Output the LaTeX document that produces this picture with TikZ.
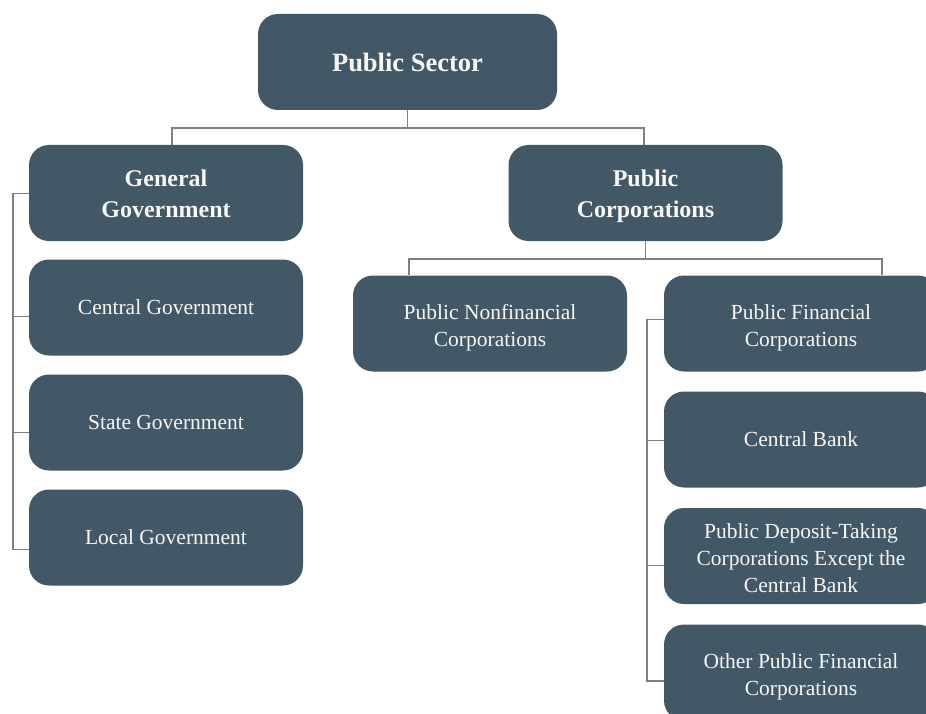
\documentclass[tikz,border=0pt]{standalone}
\usepackage{fontspec}
\setmainfont{Liberation Serif}
\definecolor{boxfill}{HTML}{425866}
\definecolor{linegray}{HTML}{7F7F7F}
\definecolor{txt}{HTML}{F7F7F7}
\begin{document}
\begin{tikzpicture}[x=1pt,y=-1pt,
  box/.style={draw=none, fill=boxfill, rounded corners=20pt, minimum width=274pt, minimum height=96pt,
    inner sep=0pt, align=center, text=txt, font=\fontsize{21.5}{27}\selectfont},
  twolines/.style={text height=46pt, text depth=0pt},
  threelines/.style={text height=73pt, text depth=0pt},
  boldbox/.style={box, font=\fontsize{24}{31}\selectfont\bfseries},
  boldtwo/.style={text height=49pt, text depth=0pt},
  conn/.style={draw=linegray, line width=1.3pt}]
\useasboundingbox (0,0) rectangle (926,714);
% nodes
\node[boldbox, minimum width=299pt, font=\fontsize{26.5}{31}\selectfont\bfseries] (ps) at (407.5,62) {Public Sector};
\node[boldbox, boldtwo] (gg) at (166,193) {General\\Government};
\node[boldbox, boldtwo] (pc) at (645.5,193) {Public\\Corporations};
\node[box] (cg) at (166,307.5) {Central Government};
\node[box] (sg) at (166,422.5) {State Government};
\node[box] (lg) at (166,537.5) {Local Government};
\node[box, twolines] (pnc) at (490,323.5) {Public Nonfinancial\\Corporations};
\node[box, twolines] (pfc) at (801,323.5) {Public Financial\\Corporations};
\node[box] (cb) at (801,439.5) {Central Bank};
\node[box, threelines] (pdt) at (801,556) {Public Deposit-Taking\\Corporations Except the\\Central Bank};
\node[box, twolines] (opf) at (801,672.5) {Other Public Financial\\Corporations};
% coordinates
\coordinate (psbar) at (407.5,128);
\coordinate (pcbar) at (645.5,259);
\coordinate (lbx) at (13,0);
\coordinate (rbx) at (647,0);
% connectors top
\draw[conn] (ps.south) -- (psbar);
\draw[conn] (gg.north -| 172,0) |- (psbar) -| (pc.north -| 644,0);
\draw[conn] (pc.south) -- (pcbar);
\draw[conn] (pnc.north -| 409,0) |- (pcbar) -| (pfc.north -| 882,0);
% left bracket
\draw[conn] (gg.west |- 0,193.3) -| (lbx |- 0,549.3) -- (lg.west |- 0,549.3);
\draw[conn] (cg.west |- 0,316.7) -- (lbx |- 0,316.7);
\draw[conn] (sg.west |- 0,432.3) -- (lbx |- 0,432.3);
% right bracket
\draw[conn] (pfc.west |- 0,319.3) -| (rbx |- 0,681) -- (opf.west |- 0,681);
\draw[conn] (cb.west |- 0,440.7) -- (rbx |- 0,440.7);
\draw[conn] (pdt.west |- 0,565.7) -- (rbx |- 0,565.7);
\end{tikzpicture}
\end{document}
